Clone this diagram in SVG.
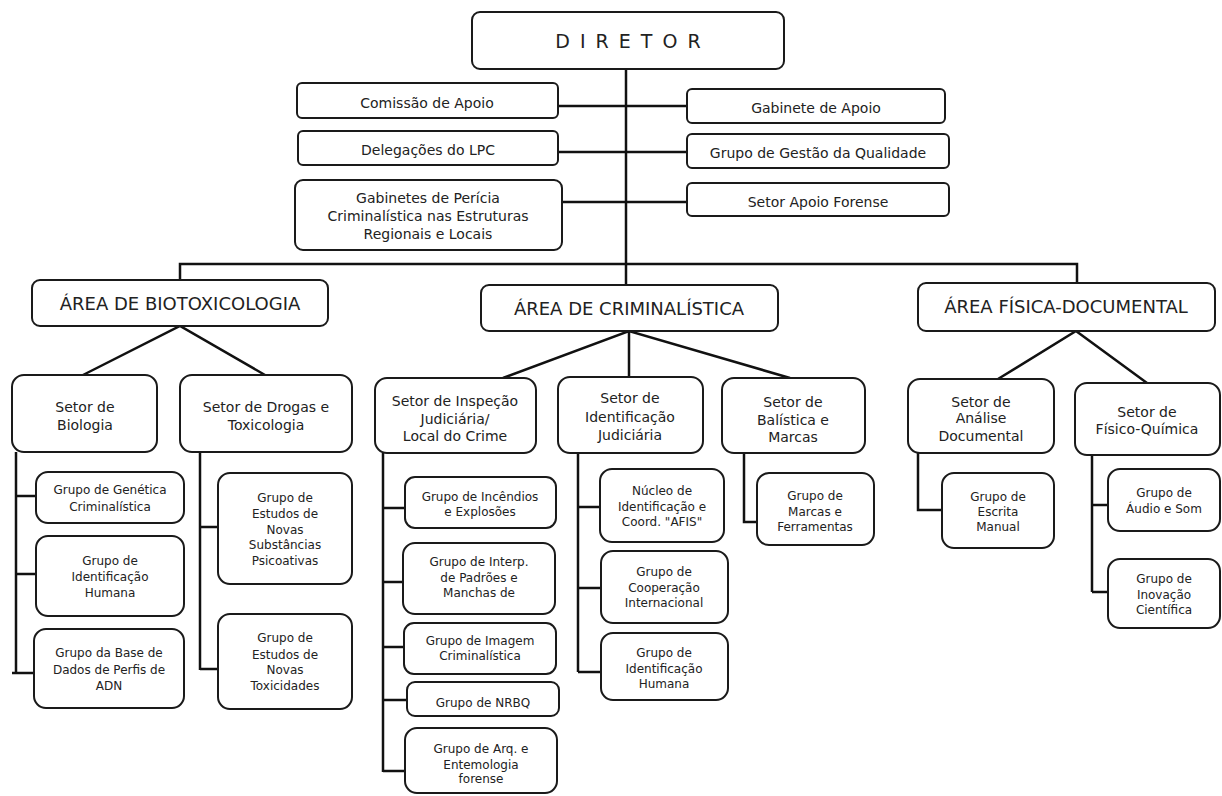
<svg xmlns="http://www.w3.org/2000/svg" width="1222" height="796" viewBox="0 0 1222 796">
<style>
  .bx { fill: #fff; stroke: #1a1a1a; stroke-width: 2; }
  .ln { fill: none; stroke: #111; stroke-width: 2.5; }
  text { font-family: "DejaVu Sans", Verdana, sans-serif; fill: #222; text-anchor: middle; }
  .dir { font-size: 19px; letter-spacing: 2px; }
  .top { font-size: 14px; }
  .area { font-size: 18px; }
  .set { font-size: 14px; }
  .grp { font-size: 12px; }
</style>
<rect width="1222" height="796" fill="#fff"/>
<g id="connectors">
  <path class="ln" d="M626 69 V285"/>
  <path class="ln" d="M558 106 H687 M558 152 H687 M562 202 H687"/>
  <path class="ln" d="M180 281 V264 H1077 V283"/>
  <path class="ln" d="M83 375 L180 326 L265 375"/>
  <path class="ln" d="M503 378 L629 331 L790 378 M629 331 V378"/>
  <path class="ln" d="M998 379 L1076 331 L1147 383"/>
  <path class="ln" d="M16 452 V673 M16 496 H36 M16 574 H36 M12 673 H34"/>
  <path class="ln" d="M200 452 V670 M200 527 H218 M200 669 H218"/>
  <path class="ln" d="M383 453 V772 M383 508 H405 M383 582 H403 M383 647 H404 M383 700 H407 M383 771 H405"/>
  <path class="ln" d="M578 453 V672 M578 507 H600 M578 588 H601 M578 672 H601"/>
  <path class="ln" d="M744 453 V522 H757"/>
  <path class="ln" d="M918 453 V510 H942"/>
  <path class="ln" d="M1092 455 V592 M1092 505 H1108 M1092 592 H1108"/>
</g>
<g id="diretor"><rect class="bx" x="472" y="12" width="312" height="57" rx="8"/><text class="dir" x="629" y="48">D I R E T O R</text></g>
<g id="comissao"><rect class="bx" x="297" y="83" width="261" height="35" rx="5"/><text class="top" x="427" y="108">Comissão de Apoio</text></g>
<g id="delegacoes"><rect class="bx" x="298" y="131" width="260" height="34" rx="5"/><text class="top" x="428" y="155">Delegações do LPC</text></g>
<g id="gabinetes-pericia"><rect class="bx" x="295" y="180" width="267" height="70" rx="8"/><text class="top" x="428" y="203">Gabinetes de Perícia</text><text class="top" x="428" y="221">Criminalística nas Estruturas</text><text class="top" x="428" y="239">Regionais e Locais</text></g>
<g id="gabinete-apoio"><rect class="bx" x="687" y="89" width="258" height="34" rx="5"/><text class="top" x="816" y="113">Gabinete de Apoio</text></g>
<g id="gestao-qualidade"><rect class="bx" x="687" y="134" width="262" height="34" rx="5"/><text class="top" x="818" y="158">Grupo de Gestão da Qualidade</text></g>
<g id="apoio-forense"><rect class="bx" x="687" y="183" width="262" height="33" rx="5"/><text class="top" x="818" y="207">Setor Apoio Forense</text></g>

<g id="area-biotox"><rect class="bx" x="32" y="280" width="296" height="46" rx="8"/><text class="area" x="180" y="310">ÁREA DE BIOTOXICOLOGIA</text></g>
<g id="area-crim"><rect class="bx" x="481" y="285" width="297" height="46" rx="8"/><text class="area" x="629" y="315">ÁREA DE CRIMINALÍSTICA</text></g>
<g id="area-fisica"><rect class="bx" x="918" y="283" width="297" height="48" rx="8"/><text class="area" x="1066" y="313">ÁREA FÍSICA-DOCUMENTAL</text></g>

<g id="setor-biologia"><rect class="bx" x="12" y="375" width="145" height="77" rx="12"/><text class="set" x="85" y="412">Setor de</text><text class="set" x="85" y="430">Biologia</text></g>
<g id="setor-drogas"><rect class="bx" x="180" y="375" width="172" height="77" rx="12"/><text class="set" x="266" y="412">Setor de Drogas e</text><text class="set" x="266" y="430">Toxicologia</text></g>
<g id="setor-inspecao"><rect class="bx" x="375" y="378" width="161" height="75" rx="12"/><text class="set" x="455" y="406">Setor de Inspeção</text><text class="set" x="455" y="424">Judiciária/</text><text class="set" x="455" y="441">Local do Crime</text></g>
<g id="setor-identificacao"><rect class="bx" x="558" y="377" width="145" height="76" rx="12"/><text class="set" x="630" y="403">Setor de</text><text class="set" x="630" y="422">Identificação</text><text class="set" x="630" y="440">Judiciária</text></g>
<g id="setor-balistica"><rect class="bx" x="722" y="378" width="143" height="75" rx="12"/><text class="set" x="793" y="407">Setor de</text><text class="set" x="793" y="425">Balística e</text><text class="set" x="793" y="442">Marcas</text></g>
<g id="setor-analise"><rect class="bx" x="908" y="379" width="146" height="74" rx="12"/><text class="set" x="981" y="407">Setor de</text><text class="set" x="981" y="423">Análise</text><text class="set" x="981" y="441">Documental</text></g>
<g id="setor-fisico"><rect class="bx" x="1075" y="383" width="145" height="72" rx="12"/><text class="set" x="1147" y="417">Setor de</text><text class="set" x="1147" y="434">Físico-Química</text></g>

<g id="g-genetica"><rect class="bx" x="36" y="472" width="148" height="51" rx="12"/><text class="grp" x="110" y="494">Grupo de Genética</text><text class="grp" x="110" y="511">Criminalística</text></g>
<g id="g-ident-humana-bio"><rect class="bx" x="36" y="536" width="148" height="80" rx="12"/><text class="grp" x="110" y="565">Grupo de</text><text class="grp" x="110" y="581">Identificação</text><text class="grp" x="110" y="597">Humana</text></g>
<g id="g-base-adn"><rect class="bx" x="34" y="629" width="150" height="79" rx="12"/><text class="grp" x="109" y="657">Grupo da Base de</text><text class="grp" x="109" y="674">Dados de Perfis de</text><text class="grp" x="109" y="690">ADN</text></g>
<g id="g-psicoativas"><rect class="bx" x="218" y="473" width="134" height="111" rx="12"/><text class="grp" x="285" y="502">Grupo de</text><text class="grp" x="285" y="518">Estudos de</text><text class="grp" x="285" y="534">Novas</text><text class="grp" x="285" y="549">Substâncias</text><text class="grp" x="285" y="565">Psicoativas</text></g>
<g id="g-toxicidades"><rect class="bx" x="218" y="614" width="134" height="95" rx="12"/><text class="grp" x="285" y="642">Grupo de</text><text class="grp" x="285" y="659">Estudos de</text><text class="grp" x="285" y="674">Novas</text><text class="grp" x="285" y="690">Toxicidades</text></g>
<g id="g-incendios"><rect class="bx" x="405" y="477" width="151" height="51" rx="10"/><text class="grp" x="480" y="501">Grupo de Incêndios</text><text class="grp" x="480" y="516">e Explosões</text></g>
<g id="g-interp"><rect class="bx" x="403" y="543" width="152" height="71" rx="12"/><text class="grp" x="479" y="566">Grupo de Interp.</text><text class="grp" x="479" y="582">de Padrões e</text><text class="grp" x="479" y="597">Manchas de</text></g>
<g id="g-imagem"><rect class="bx" x="404" y="623" width="152" height="51" rx="10"/><text class="grp" x="480" y="645">Grupo de Imagem</text><text class="grp" x="480" y="660">Criminalística</text></g>
<g id="g-nrbq"><rect class="bx" x="407" y="682" width="152" height="34" rx="8"/><text class="grp" x="483" y="707">Grupo de NRBQ</text></g>
<g id="g-arq"><rect class="bx" x="405" y="728" width="152" height="65" rx="12"/><text class="grp" x="481" y="753">Grupo de Arq. e</text><text class="grp" x="481" y="769">Entemologia</text><text class="grp" x="481" y="783">forense</text></g>
<g id="g-nucleo-afis"><rect class="bx" x="600" y="469" width="124" height="73" rx="12"/><text class="grp" x="662" y="495">Núcleo de</text><text class="grp" x="662" y="511">Identificação e</text><text class="grp" x="662" y="526">Coord. "AFIS"</text></g>
<g id="g-cooperacao"><rect class="bx" x="601" y="551" width="127" height="72" rx="12"/><text class="grp" x="664" y="576">Grupo de</text><text class="grp" x="664" y="592">Cooperação</text><text class="grp" x="664" y="607">Internacional</text></g>
<g id="g-ident-humana-crim"><rect class="bx" x="601" y="633" width="127" height="67" rx="12"/><text class="grp" x="664" y="657">Grupo de</text><text class="grp" x="664" y="673">Identificação</text><text class="grp" x="664" y="688">Humana</text></g>
<g id="g-marcas"><rect class="bx" x="757" y="473" width="117" height="72" rx="12"/><text class="grp" x="815" y="500">Grupo de</text><text class="grp" x="815" y="516">Marcas e</text><text class="grp" x="815" y="531">Ferramentas</text></g>
<g id="g-escrita"><rect class="bx" x="942" y="473" width="112" height="75" rx="12"/><text class="grp" x="998" y="501">Grupo de</text><text class="grp" x="998" y="516">Escrita</text><text class="grp" x="998" y="531">Manual</text></g>
<g id="g-audio"><rect class="bx" x="1108" y="469" width="112" height="62" rx="12"/><text class="grp" x="1164" y="497">Grupo de</text><text class="grp" x="1164" y="513">Áudio e Som</text></g>
<g id="g-inovacao"><rect class="bx" x="1108" y="559" width="112" height="69" rx="12"/><text class="grp" x="1164" y="583">Grupo de</text><text class="grp" x="1164" y="599">Inovação</text><text class="grp" x="1164" y="614">Científica</text></g>
</svg>
